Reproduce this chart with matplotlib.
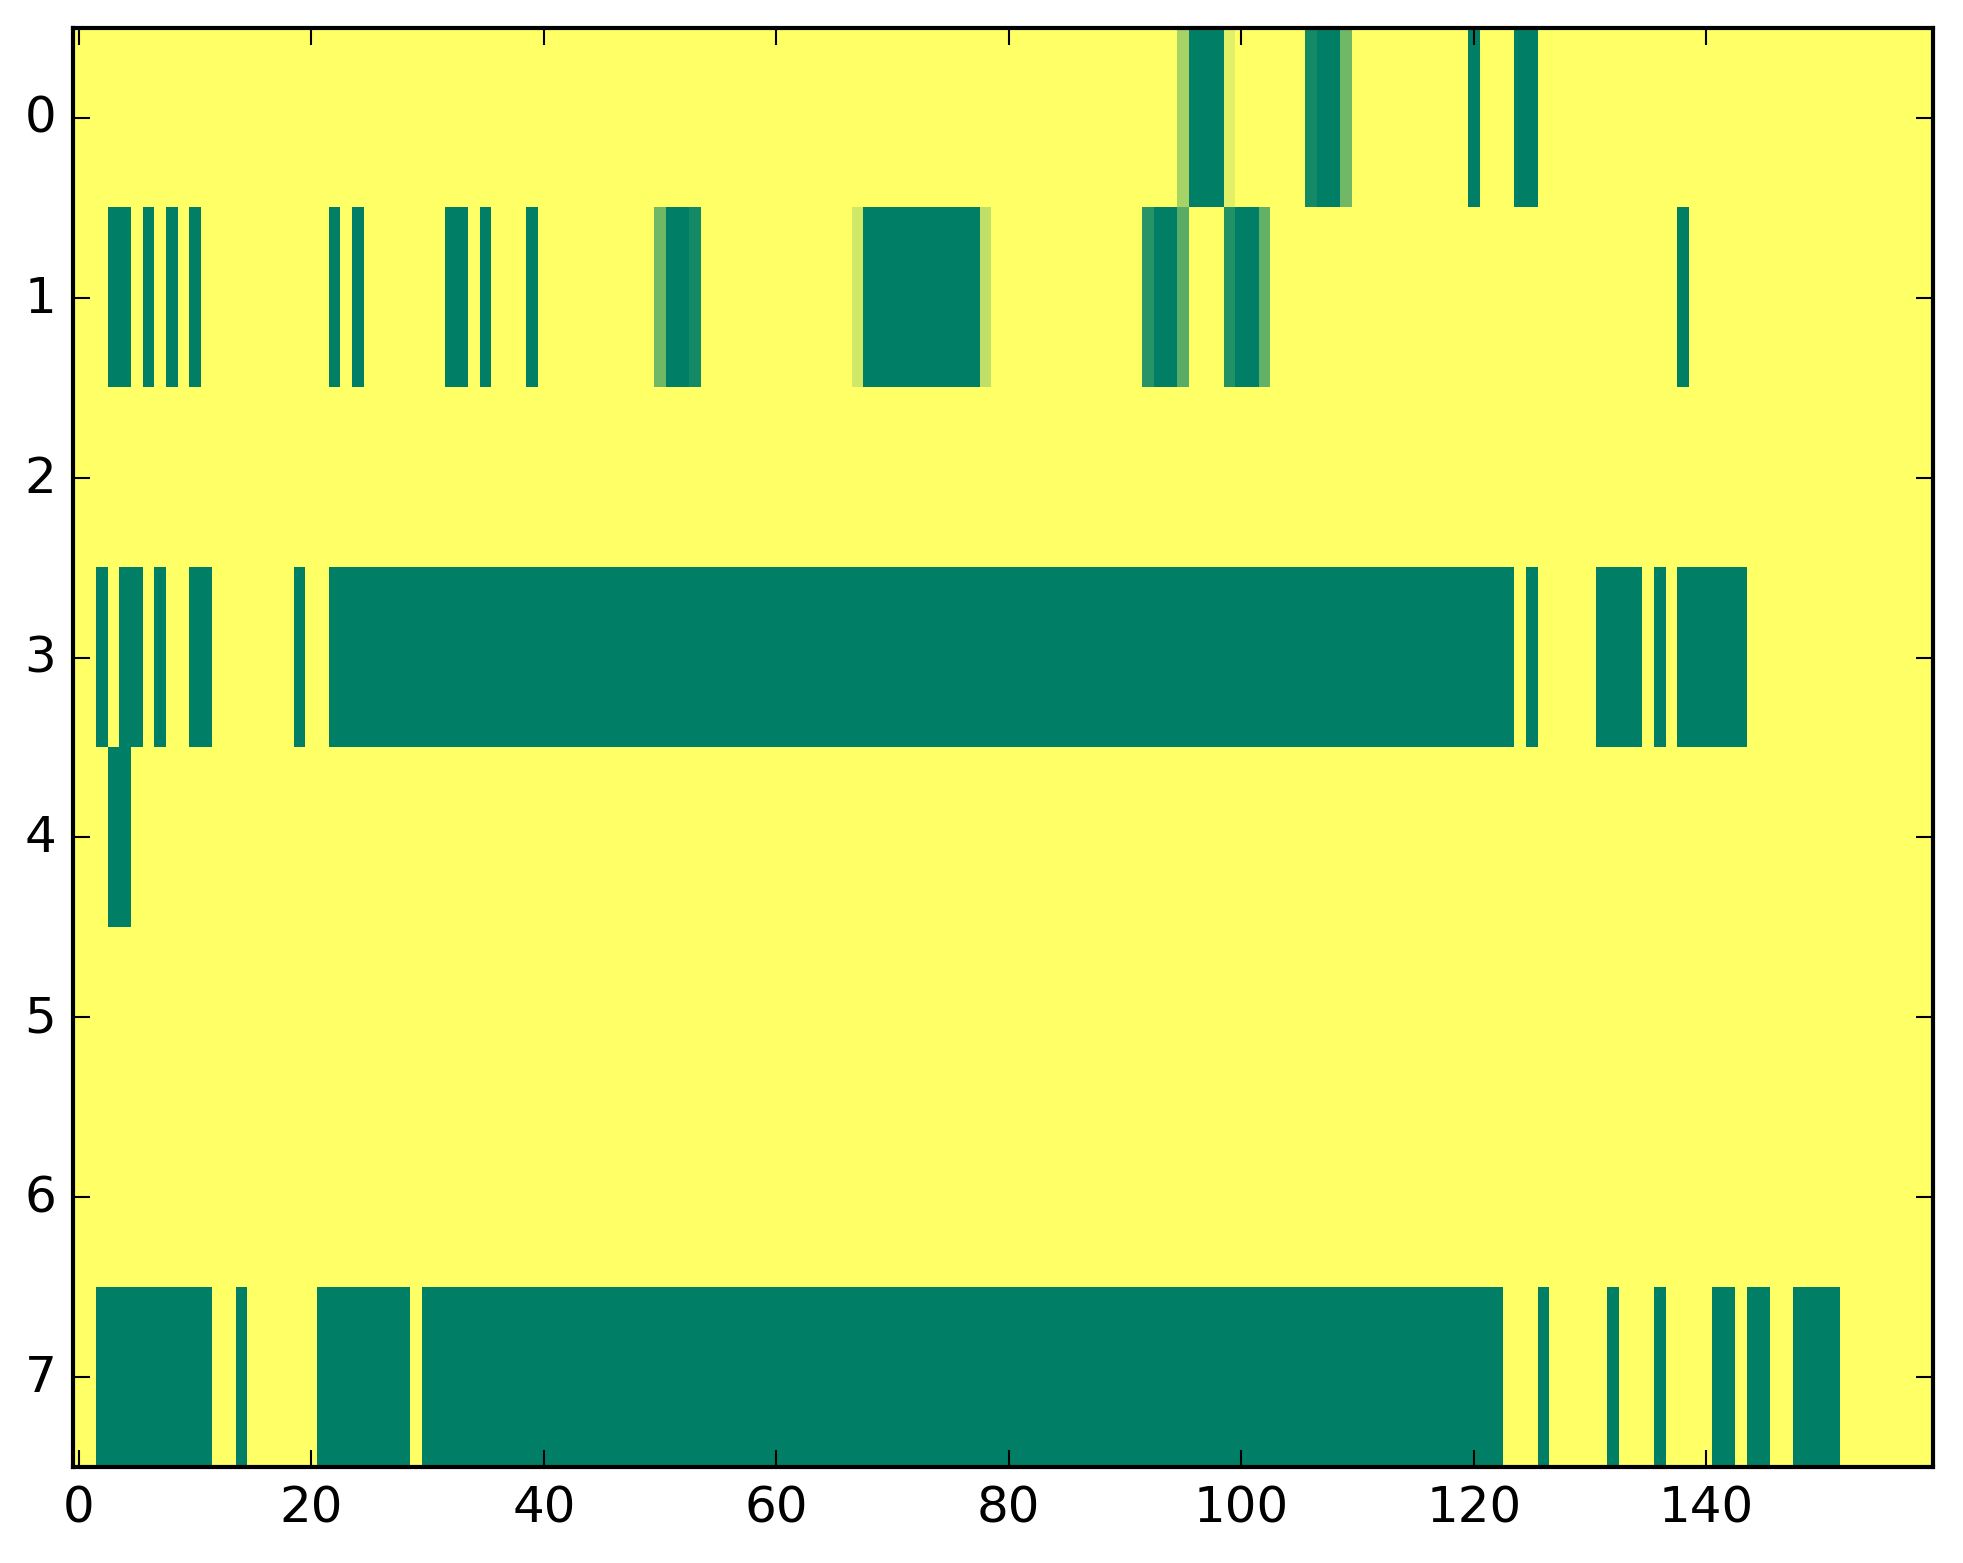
import numpy as np
import matplotlib
matplotlib.use("Agg")
import matplotlib.pyplot as plt

plt.style.use('classic')

n_rows = 8
n_cols = 160

# runs of fully "on" cells per row, as (first, last) column indices
row0_runs = [(96, 98), (107, 108), (120, 120), (124, 125)]
row1_runs = [(3, 4), (6, 6), (8, 8), (10, 10), (22, 22), (24, 24), (32, 33),
             (35, 35), (39, 39), (51, 52), (68, 77), (93, 94), (100, 101),
             (138, 138)]
row3_runs = [(2, 2), (4, 5), (7, 7), (10, 11), (19, 19), (22, 123), (125, 125),
             (131, 134), (136, 136), (138, 143)]
row4_runs = [(3, 4)]
row7_runs = [(2, 11), (14, 14), (21, 28), (30, 122), (126, 126), (132, 132),
             (136, 136), (141, 142), (144, 145), (148, 151)]

# cells with in-between values
row0_partial = {95: 0.35, 99: 0.12, 106: 0.92, 109: 0.56}
row1_partial = {50: 0.56, 53: 0.92, 67: 0.18, 78: 0.25,
                92: 0.84, 95: 0.65, 99: 0.86, 102: 0.61}

runs = {0: row0_runs, 1: row1_runs, 3: row3_runs, 4: row4_runs, 7: row7_runs}
partials = {0: row0_partial, 1: row1_partial}

data = np.zeros((n_rows, n_cols))
for r, rr in runs.items():
    for a, b in rr:
        data[r, a:b + 1] = 1.0
for r, pp in partials.items():
    for c, v in pp.items():
        data[r, c] = v

fig = plt.figure(figsize=(1963 / 300, 1564 / 300), dpi=300)
ax = fig.add_axes([0.0372, 0.0614, 0.9475, 0.9201])
ax.imshow(data, cmap='summer_r', vmin=0, vmax=1, aspect='auto',
          interpolation='nearest')
ax.set_xticks(np.arange(0, 141, 20))
ax.set_yticks(np.arange(0, 8))
ax.set_xlim(-0.5, n_cols - 0.5)
ax.set_ylim(n_rows - 0.5, -0.5)

fig.savefig('out.png', dpi=300)
